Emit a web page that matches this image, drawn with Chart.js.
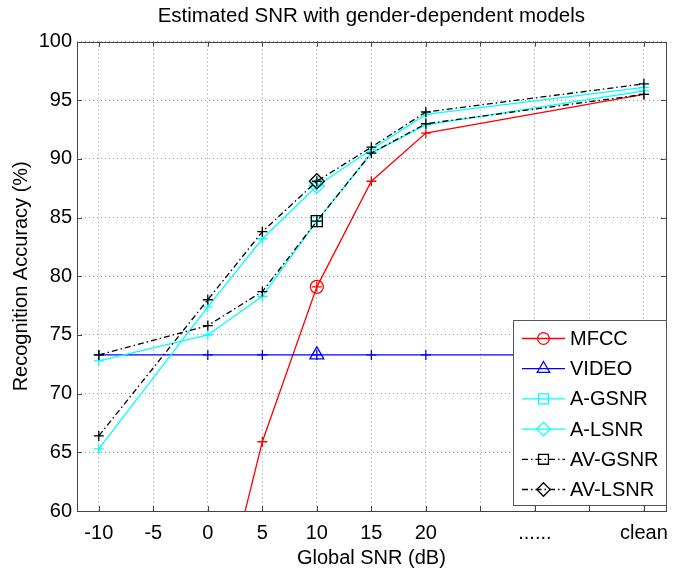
<!DOCTYPE html>
<html><head><meta charset="utf-8">
<script src="https://cdn.jsdelivr.net/npm/chart.js@4.4.0/dist/chart.umd.min.js"></script>
<style>html,body{margin:0;padding:0;background:#fff}canvas{display:block}</style>
</head><body>
<canvas id="c" width="675" height="570"></canvas>
<script>
// ---- data ----
const snrValues = [-10, 0, 5, 10, 15, 20, 40];          // 40 = "clean" position
const tickValues = [-10, -5, 0, 5, 10, 15, 20, 25, 30, 35, 40];
const tickLabels = ['-10', '-5', '0', '5', '10', '15', '20', '', '......', '', 'clean'];
const yTickValues = [60, 65, 70, 75, 80, 85, 90, 95, 100];
const seriesNames = ['MFCC', 'VIDEO', 'A-GSNR', 'A-LSNR', 'AV-GSNR', 'AV-LSNR'];
const mfcc   = [30.0, 47.2, 65.9, 79.1, 88.1, 92.2, 95.5];
const video  = [73.3, 73.3, 73.3, 73.3, 73.3, 73.3, 73.3];
const aGsnr  = [72.8, 75.0, 78.3, 84.7, 90.5, 92.9, 95.8];
const aLsnr  = [65.3, 77.4, 83.2, 87.7, 90.8, 93.8, 96.1];
const avGsnr = [73.3, 75.8, 78.7, 84.7, 90.5, 93.0, 95.5];
const avLsnr = [66.4, 78.0, 83.8, 88.1, 91.0, 94.0, 96.4];
const markerSnr = 10;
const chartTitle = 'Estimated SNR with gender-dependent models';
const xTitle = 'Global SNR (dB)';
const yTitle = 'Recognition Accuracy (%)';

// ---- styles ----
const FONT = '"Liberation Sans", Arial, Helvetica, sans-serif';
const DASHDOT = [6, 3, 1.5, 3];
const series = [
  {name: seriesNames[0], data: mfcc,   color: '#ff0000', dash: [],      marker: 'circle',   r: 6.5},
  {name: seriesNames[1], data: video,  color: '#0000ff', dash: [],      marker: 'triangle', r: 8},
  {name: seriesNames[2], data: aGsnr,  color: '#00ffff', dash: [],      marker: 'rect',     r: 7.8},
  {name: seriesNames[3], data: aLsnr,  color: '#00ffff', dash: [],      marker: 'rectRot',  r: 7.5},
  {name: seriesNames[4], data: avGsnr, color: '#000000', dash: DASHDOT, marker: 'rect',     r: 7.8},
  {name: seriesNames[5], data: avLsnr, color: '#000000', dash: DASHDOT, marker: 'rectRot',  r: 7.5}
];

const datasets = [];
series.forEach((s, i) => {
  const pts = snrValues.map((x, j) => ({x: x, y: s.data[j]}));
  datasets.push({
    label: s.name, data: pts, showLine: true,
    borderColor: s.color, backgroundColor: s.color, borderWidth: 1.3, borderDash: s.dash,
    pointStyle: 'cross', pointRadius: 5, pointBorderWidth: 1.3, pointBorderColor: s.color,
    pointBackgroundColor: s.color, fill: false, tension: 0, order: 30 - i * 2
  });
  datasets.push({
    label: s.name + ' marker', data: pts, showLine: false,
    pointStyle: s.marker,
    pointRadius: ctx => (ctx.raw && ctx.raw.x === markerSnr) ? s.r : 0,
    pointBorderColor: s.color, pointBackgroundColor: 'rgba(0,0,0,0)', pointBorderWidth: 1.3,
    order: 29 - i * 2
  });
});

function drawMarker(ctx, style, x, y, r, color) {
  ctx.save();
  ctx.strokeStyle = color; ctx.lineWidth = 1.3; ctx.setLineDash([]);
  ctx.beginPath();
  if (style === 'circle') { ctx.arc(x, y, r, 0, Math.PI * 2); }
  else if (style === 'triangle') {
    ctx.moveTo(x, y - r); ctx.lineTo(x + r * 0.866, y + r * 0.5); ctx.lineTo(x - r * 0.866, y + r * 0.5); ctx.closePath();
  } else if (style === 'rect') {
    const h = r * Math.SQRT1_2; ctx.rect(x - h, y - h, 2 * h, 2 * h);
  } else if (style === 'rectRot') {
    ctx.moveTo(x, y - r); ctx.lineTo(x + r, y); ctx.lineTo(x, y + r); ctx.lineTo(x - r, y); ctx.closePath();
  }
  ctx.stroke();
  ctx.restore();
}

const framePlugin = {
  id: 'frame',
  afterDatasetsDraw(chart) {
    const {ctx, chartArea: a} = chart;
    const xs = chart.scales.x, ys = chart.scales.y;
    ctx.save();
    ctx.strokeStyle = '#444'; ctx.lineWidth = 1; ctx.setLineDash([]);
    ctx.beginPath();
    tickValues.forEach(v => {
      const px = Math.round(xs.getPixelForValue(v)) + 0.5;
      ctx.moveTo(px, a.bottom); ctx.lineTo(px, a.bottom - 5);
      ctx.moveTo(px, a.top); ctx.lineTo(px, a.top + 5);
    });
    yTickValues.forEach(v => {
      const py = Math.round(ys.getPixelForValue(v)) + 0.5;
      ctx.moveTo(a.left, py); ctx.lineTo(a.left + 5, py);
      ctx.moveTo(a.right, py); ctx.lineTo(a.right - 5, py);
    });
    ctx.stroke();
    ctx.strokeRect(Math.round(a.left) + 0.5, Math.round(a.top) + 0.5, Math.round(a.right - a.left), Math.round(a.bottom - a.top));
    ctx.restore();
  }
};

const legendPlugin = {
  id: 'boxLegend',
  afterDraw(chart) {
    const ctx = chart.ctx;
    const bx = 513.5, by = 320.5, bw = 153, bh = 185;
    ctx.save();
    ctx.fillStyle = '#fff'; ctx.fillRect(bx, by, bw, bh);
    ctx.strokeStyle = '#555'; ctx.lineWidth = 1; ctx.strokeRect(bx, by, bw, bh);
    series.forEach((s, i) => {
      const y = 338.5 + i * 30.2;
      ctx.strokeStyle = s.color; ctx.lineWidth = 1.3; ctx.setLineDash(s.dash);
      ctx.beginPath(); ctx.moveTo(522, y); ctx.lineTo(565, y); ctx.stroke();
      ctx.setLineDash([]);
      drawMarker(ctx, s.marker, 543.5, y, s.r * 0.9, s.color);
      ctx.fillStyle = '#000'; ctx.font = '20px ' + FONT;
      ctx.textBaseline = 'middle'; ctx.textAlign = 'left';
      ctx.fillText(s.name, 570, y + 1);
    });
    ctx.restore();
  }
};

new Chart(document.getElementById('c'), {
  type: 'scatter',
  data: {datasets: datasets},
  options: {
    responsive: false, animation: false, events: [],
    layout: {padding: {left: 0, right: 1, top: 0, bottom: 0}},
    plugins: {
      legend: {display: false}, tooltip: {enabled: false},
      title: {display: true, text: chartTitle, fullSize: false, color: '#000',
              font: {family: FONT, size: 20.5, weight: 'normal'}, padding: {top: 4, bottom: 13}}
    },
    scales: {
      x: {
        type: 'linear', min: -12, max: 42,
        afterBuildTicks: sc => { sc.ticks = tickValues.map(v => ({value: v})); },
        afterFit: sc => { sc.height = 59; sc.paddingLeft = 0; sc.paddingRight = 0; },
        ticks: {autoSkip: false, maxRotation: 0, padding: 10, color: '#000',
                font: {family: FONT, size: 20},
                callback: v => { const k = tickValues.indexOf(v); return k >= 0 ? tickLabels[k] : ''; }},
        grid: {color: '#999', lineWidth: 1, drawTicks: false},
        border: {display: false, dash: [1, 3]},
        title: {display: true, text: xTitle, color: '#000', font: {family: FONT, size: 20}, padding: {top: 0, bottom: 0}}
      },
      y: {
        type: 'linear', min: 60, max: 100,
        afterBuildTicks: sc => { sc.ticks = yTickValues.map(v => ({value: v})); },
        afterFit: sc => { sc.width = 77; sc.paddingTop = 0; sc.paddingBottom = 0; },
        ticks: {padding: 5, color: '#000', font: {family: FONT, size: 20}},
        grid: {color: '#999', lineWidth: 1, drawTicks: false},
        border: {display: false, dash: [1, 3]},
        title: {display: true, text: yTitle, color: '#000', font: {family: FONT, size: 20}, padding: {top: 9, bottom: 0}}
      }
    }
  },
  plugins: [framePlugin, legendPlugin]
});
</script>
</body></html>
